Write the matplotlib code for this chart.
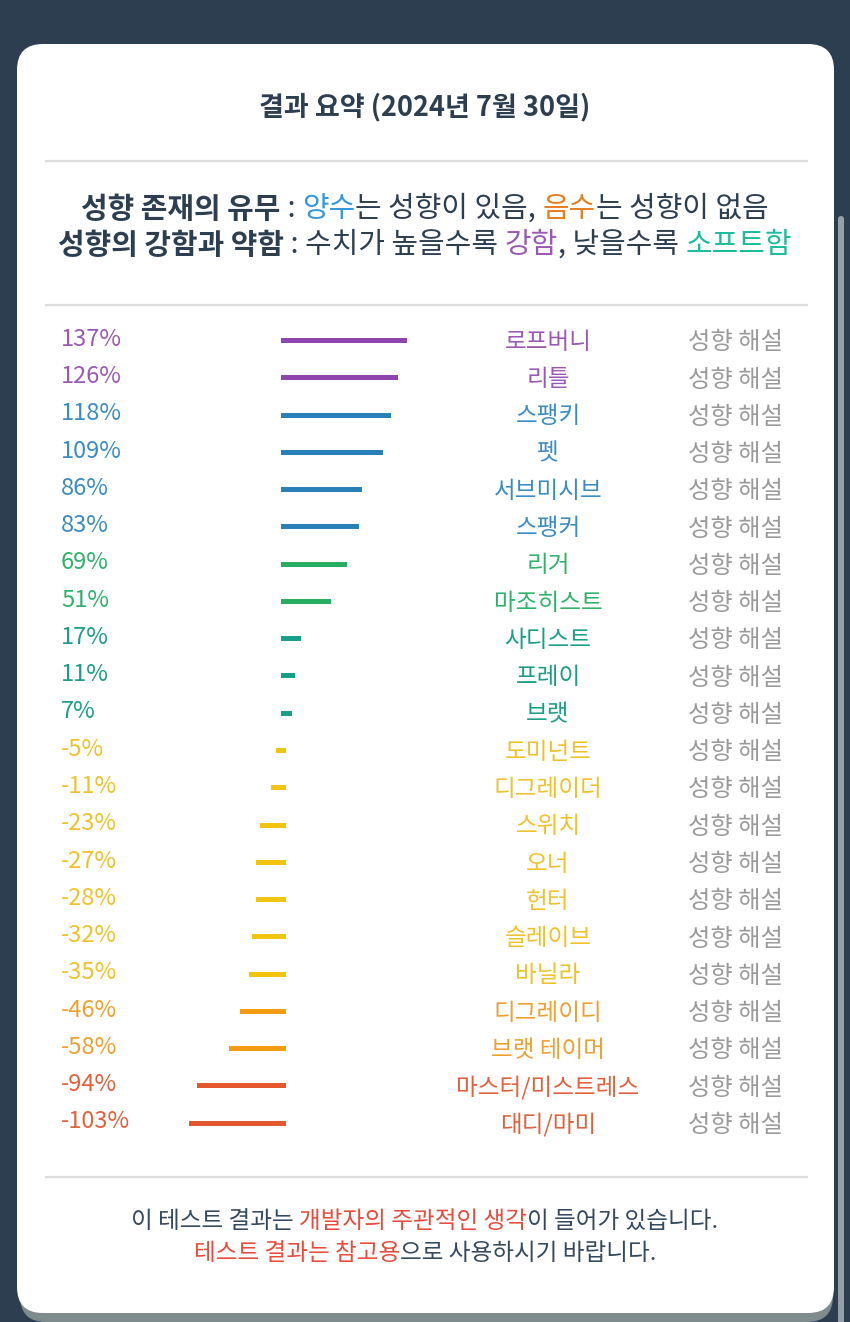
import numpy as np
import matplotlib
matplotlib.use('Agg')
import matplotlib.pyplot as plt
from matplotlib.patches import FancyBboxPatch
from matplotlib import transforms

plt.rcParams['font.family'] = ['Noto Sans CJK KR', 'DejaVu Sans']

# data
names = ['로프버니', '리틀', '스팽키', '펫', '서브미시브', '스팽커', '리거', '마조히스트',
         '사디스트', '프레이', '브랫', '도미넌트', '디그레이더', '스위치', '오너', '헌터',
         '슬레이브', '바닐라', '디그레이디', '브랫 테이머', '마스터/미스트레스', '대디/마미']
values = [137, 126, 118, 109, 86, 83, 69, 51, 17, 11, 7, -5, -11, -23, -27, -28,
          -32, -35, -46, -58, -94, -103]
bar_colors = ['#8e44ad'] * 2 + ['#2980b9'] * 4 + ['#27ae60'] * 2 + ['#16a085'] * 3 + \
             ['#f1c40f'] * 7 + ['#f39c12'] * 2 + ['#e4572e'] * 2
text_colors = ['#9b59b6'] * 2 + ['#3a8cc4'] * 4 + ['#2eb36a'] * 2 + ['#1a9e85'] * 3 + \
              ['#f0c22a'] * 7 + ['#f0a030'] * 2 + ['#e2603a'] * 2

title = '결과 요약 (2024년 7월 30일)'
legend1 = [('성향 존재의 유무', '#2c3e50', 'bold'), (' : ', '#2c3e50', 'normal'),
           ('양수', '#3498db', 'normal'), ('는 성향이 있음, ', '#2c3e50', 'normal'),
           ('음수', '#e67e22', 'normal'), ('는 성향이 없음', '#2c3e50', 'normal')]
legend2 = [('성향의 강함과 약함', '#2c3e50', 'bold'), (' : 수치가 높을수록 ', '#2c3e50', 'normal'),
           ('강함', '#9b59b6', 'normal'), (', 낮을수록 ', '#2c3e50', 'normal'),
           ('소프트함', '#1abc9c', 'normal')]
foot1 = [('이 테스트 결과는 ', '#34495e', 'normal'), ('개발자의 주관적인 생각', '#e74c3c', 'normal'),
         ('이 들어가 있습니다.', '#34495e', 'normal')]
foot2 = [('테스트 결과는 참고용', '#e74c3c', 'normal'),
         ('으로 사용하시기 바랍니다.', '#34495e', 'normal')]

W, H = 850, 1322
fig = plt.figure(figsize=(W / 100, H / 100), dpi=100)
fig.patch.set_facecolor('#2c3e50')

bg = fig.add_axes([0, 0, 1, 1])
bg.set_xlim(0, W)
bg.set_ylim(H, 0)
bg.axis('off')

# card + shadow
bg.add_patch(FancyBboxPatch((20, 60), 813, 1262, boxstyle='round,pad=0,rounding_size=26',
                            fc='#7f8c8d', ec='none'))
bg.add_patch(FancyBboxPatch((17, 44), 817, 1269, boxstyle='round,pad=0,rounding_size=26',
                            fc='white', ec='none'))
# scrollbar
bg.add_patch(FancyBboxPatch((838, 216), 6, 1120, boxstyle='round,pad=0,rounding_size=3',
                            fc='#95a0a6', ec='none'))

for y in [161, 305, 1177]:
    bg.plot([45, 808], [y, y], color='#dcdcdc', lw=1.6, solid_capstyle='butt')

bg.text(425, 107, title, ha='center', va='center', fontsize=19.5, fontweight='bold', color='#2c3e50')

renderer = fig.canvas.get_renderer()


def rich_line(parts, xc, y, size):
    texts = []
    for s, c, w in parts:
        t = bg.text(0, y, s, ha='left', va='center', fontsize=size, color=c, fontweight=w)
        texts.append(t)
    widths = [t.get_window_extent(renderer).width for t in texts]
    x = xc - sum(widths) / 2
    for t, w in zip(texts, widths):
        t.set_x(x)
        x += w


rich_line(legend1, 425, 209, 20.8)
rich_line(legend2, 425, 245, 20.8)
rich_line(foot1, 425, 1221, 17)
rich_line(foot2, 425, 1254, 17)

# bar chart
row_h = 37.27
top_px = 340 - row_h / 2
bot_px = 340 + row_h * 21 + row_h / 2
x_left, x_right = 160, 430
scale = 0.89  # px per percent
zero_px = 282.5
ax = fig.add_axes([x_left / W, 1 - bot_px / H, (x_right - x_left) / W, (bot_px - top_px) / H])
ax.set_xlim(-(zero_px - x_left) / scale, (x_right - zero_px) / scale)
ax.set_ylim(len(values) - 0.5, -0.5)
ax.axis('off')

for i, v in enumerate(values):
    ax.plot([0, v], [i, i], color=bar_colors[i], lw=3.6, solid_capstyle='projecting')

tr = transforms.blended_transform_factory(bg.transData, ax.transData)
for i, v in enumerate(values):
    ax.text(61, i - 0.02, '%d%%' % v, transform=tr, ha='left', va='center',
            fontsize=17, color=text_colors[i])
    ax.text(548, i + 0.06, names[i], transform=tr, ha='center', va='center',
            fontsize=17, color=text_colors[i])
    ax.text(736, i + 0.06, '성향 해설', transform=tr, ha='center', va='center',
            fontsize=17.5, color='#9a9a9a')

fig.savefig('out.png', dpi=100, facecolor=fig.get_facecolor())
